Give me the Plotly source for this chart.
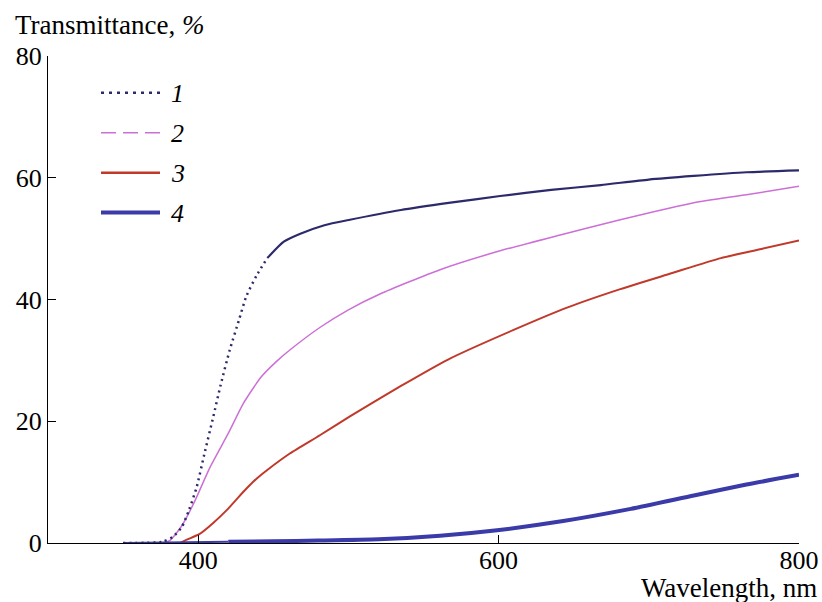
import plotly.graph_objects as go

# ---- data ----
wl1 = [350, 376, 383, 389, 394, 399, 404, 410, 415, 421, 427, 432, 439, 446,
       457, 468, 484, 501, 535, 568, 601, 635, 668, 700, 730, 765, 800]
t1 = [0, 0.2, 1.0, 2.6, 5.5, 9.2, 14.5, 20.7, 26.0, 31.7, 36.5, 40.5, 44.0, 46.8,
      49.5, 50.8, 52.2, 53.1, 54.7, 55.9, 57.0, 58.0, 58.8, 59.7, 60.3, 60.9, 61.2]

wl2 = [350, 376, 381, 389, 397, 408, 420, 430, 442, 452, 461, 481, 500, 521, 561,
       601, 641, 681, 730, 765, 800]
t2 = [0, 0, 0.4, 2.8, 6.5, 12.5, 18.0, 22.9, 27.3, 29.8, 31.7, 35.4, 38.3, 40.9, 44.9,
      48.0, 50.6, 53.1, 55.9, 57.2, 58.6]

wl3 = [350, 388, 392, 401, 410, 419, 426, 432, 439, 446, 461, 481, 501, 535, 566, 610,
       646, 681, 715, 748, 775, 800]
t3 = [0, 0, 0.5, 1.5, 3.3, 5.4, 7.3, 8.9, 10.6, 12.0, 14.7, 17.7, 20.8, 25.8, 30.1, 35.0,
      38.7, 41.7, 44.3, 46.8, 48.3, 49.7]

wl4 = [350, 420, 450, 480, 520, 561, 599, 643, 688, 730, 765, 800]
t4 = [0, 0.2, 0.3, 0.4, 0.6, 1.2, 2.1, 3.6, 5.6, 7.8, 9.6, 11.2]

labels = ["1", "2", "3", "4"]
x_ticks = [400, 600, 800]
y_ticks = [0, 20, 40, 60, 80]

# ---- styles ----
C1, C2, C3, C4 = "#2c2a6a", "#cc6fd6", "#c0392b", "#3a3aa8"
FONT = "Liberation Serif"

fig = go.Figure()

split = 446
x1a = [x for x in wl1 if x <= split]
y1a = [y for x, y in zip(wl1, t1) if x <= split]
x1b = [x for x in wl1 if x >= split]
y1b = [y for x, y in zip(wl1, t1) if x >= split]

fig.add_trace(go.Scatter(x=wl3, y=t3, mode="lines",
                         line=dict(color=C3, width=2, shape="spline", smoothing=0.6),
                         showlegend=False))
fig.add_trace(go.Scatter(x=wl2, y=t2, mode="lines",
                         line=dict(color=C2, width=1.5, shape="spline", smoothing=0.6),
                         showlegend=False))
x4a = [x for x in wl4 if x <= 420]
y4a = [y for x, y in zip(wl4, t4) if x <= 420]
x4b = [x for x in wl4 if x >= 420]
y4b = [y for x, y in zip(wl4, t4) if x >= 420]
fig.add_trace(go.Scatter(x=x4a, y=y4a, mode="lines",
                         line=dict(color=C4, width=2), showlegend=False))
fig.add_trace(go.Scatter(x=x4b, y=y4b, mode="lines",
                         line=dict(color=C4, width=4, shape="spline", smoothing=0.6),
                         showlegend=False))
fig.add_trace(go.Scatter(x=x1a, y=y1a, mode="lines",
                         line=dict(color=C1, width=2.5, dash="2px,4px",
                                   shape="spline", smoothing=0.6),
                         showlegend=False))
fig.add_trace(go.Scatter(x=x1b, y=y1b, mode="lines",
                         line=dict(color=C1, width=2.2, shape="spline", smoothing=0.6),
                         showlegend=False))

# ---- legend drawn manually ----
L, R, T, B = 48, 23, 56, 59
W, H = 822 - L - R, 602 - T - B


def px_x(p):
    return (p - L) / W


def px_y(p):
    return (602 - B - p) / H


leg_styles = [
    dict(color=C1, width=2.5, dash="3px,5px"),
    dict(color=C2, width=1.5, dash="15px,7px"),
    dict(color=C3, width=2.5),
    dict(color=C4, width=4),
]
leg_y = [92.7, 132.7, 172.7, 212.5]
for lab, st, yy in zip(labels, leg_styles, leg_y):
    fig.add_shape(type="line", xref="paper", yref="paper",
                  x0=px_x(101), x1=px_x(160), y0=px_y(yy), y1=px_y(yy),
                  line=st)
    fig.add_annotation(xref="paper", yref="paper", x=px_x(169), y=px_y(yy + 1),
                       text="<i>%s</i>" % lab, showarrow=False,
                       xanchor="left", yanchor="middle",
                       font=dict(family=FONT, size=26, color="black"))

fig.add_annotation(xref="paper", yref="paper", x=px_x(13), y=px_y(25),
                   text="Transmittance, <i>%</i>", showarrow=False,
                   xanchor="left", yanchor="middle",
                   font=dict(family=FONT, size=27, color="black"))
fig.add_annotation(xref="paper", yref="paper", x=px_x(819), y=px_y(588),
                   text="Wavelength, nm", showarrow=False,
                   xanchor="right", yanchor="middle",
                   font=dict(family=FONT, size=27, color="black"))

fig.update_layout(
    width=822, height=602,
    margin=dict(l=L, r=R, t=T, b=B, autoexpand=False),
    paper_bgcolor="white", plot_bgcolor="white",
    font=dict(family=FONT, size=26, color="black"),
    showlegend=False,
)
fig.update_xaxes(range=[300, 800], tickvals=x_ticks, ticks="inside", ticklen=8,
                 tickcolor="black", tickwidth=1.2, showline=True, linecolor="black",
                 linewidth=1.3, showgrid=False, zeroline=False, automargin=False,
                 tickfont=dict(family=FONT, size=26), ticklabelstandoff=-6)
fig.update_yaxes(range=[0, 80], tickvals=y_ticks, ticks="inside", ticklen=8,
                 tickcolor="black", tickwidth=1.2, showline=True, linecolor="black",
                 linewidth=1.3, showgrid=False, zeroline=False, automargin=False,
                 tickfont=dict(family=FONT, size=26))

fig.write_html("out.html")
